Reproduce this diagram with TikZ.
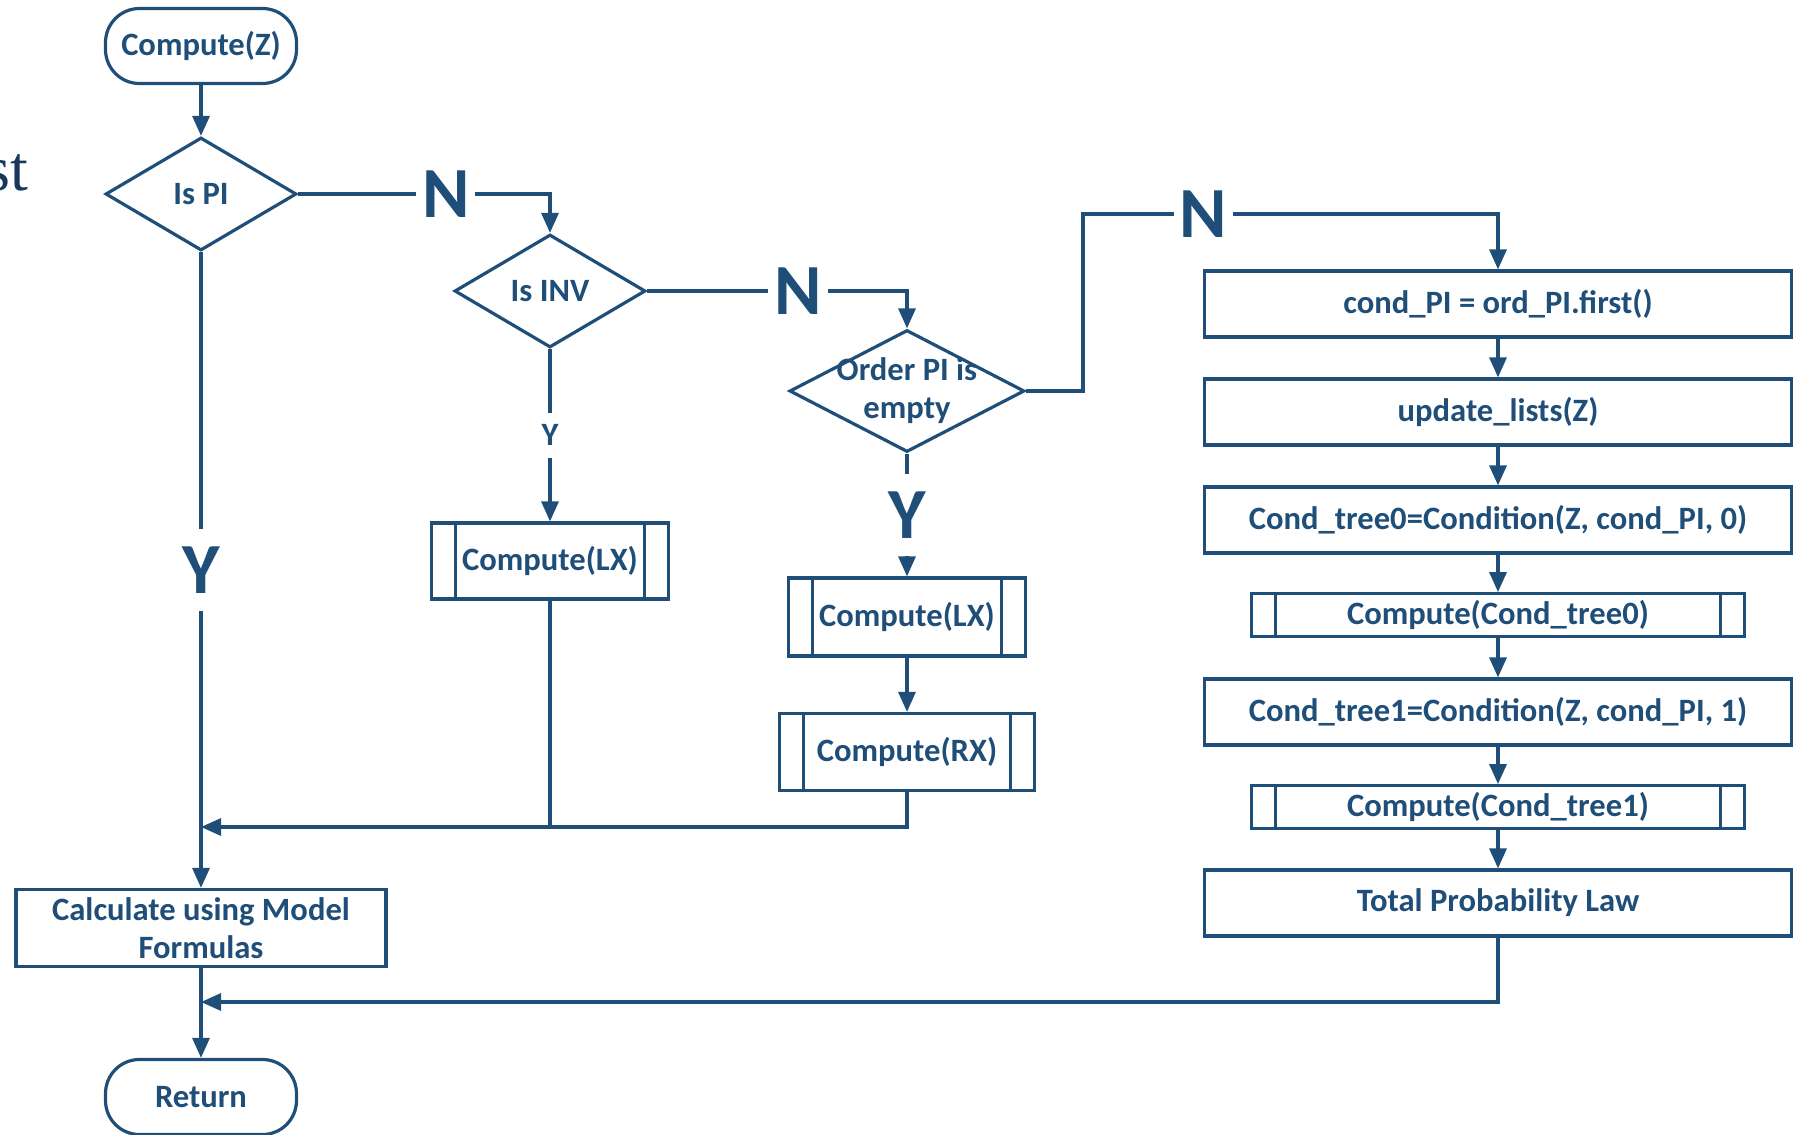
\documentclass[tikz,border=0pt]{standalone}
\usepackage{fontspec}
\setmainfont{Carlito}
\newfontfamily\slidefont{Liberation Serif}
\usepackage{tikz}
\usetikzlibrary{shapes.geometric, arrows.meta, positioning, calc}
\definecolor{flowblue}{RGB}{31, 78, 121}
\definecolor{slideblue}{RGB}{23, 55, 94}

\tikzset{
  boxtext/.style={text=flowblue, font=\bfseries\fontsize{16.3}{19}\selectfont},
  terminal/.style={boxtext, draw=flowblue, line width=1.6pt, rounded corners=17pt,
                   minimum width=95.5pt, minimum height=37.5pt},
  decision/.style={boxtext, diamond, draw=flowblue, line width=1.6pt, inner sep=0pt,
                   aspect=1.69, minimum width=95.5pt, minimum height=56.5pt},
  process/.style={boxtext, draw=flowblue, line width=1.6pt, minimum height=33pt},
  subroutine/.style={boxtext, draw=flowblue, line width=1.6pt, minimum height=38pt,
                     path picture={
                       \draw[flowblue, line width=1.6pt]
                         ([xshift=12pt]path picture bounding box.north west) -- ([xshift=12pt]path picture bounding box.south west)
                         ([xshift=-12pt]path picture bounding box.north east) -- ([xshift=-12pt]path picture bounding box.south east);}},
  flowline/.style={draw=flowblue, line width=1.6pt},
  flowarrow/.style={flowline, -{Triangle[width=8.5pt, length=10pt]}},
  bigmark/.style={text=flowblue, font=\bfseries\fontsize{36}{36}\selectfont, fill=white,
                  inner xsep=3pt, inner ysep=8pt},
  smallmark/.style={boxtext, fill=white, inner xsep=3pt, inner ysep=6pt}
}

\begin{document}
\begin{tikzpicture}[x=0.5pt, y=-0.5pt]
  \useasboundingbox (0,0) rectangle (1801,1135);

  % leftover of the slide title
  \node[anchor=base east, inner sep=0pt, text=slideblue, font=\slidefont\fontsize{32}{36}\selectfont] (slidefrag) at (29,190) {st};

  % left column
  \node[terminal] (start) at (201,46) {Compute(Z)};
  \node[decision] (ispi) at (201,194) {Is PI};
  \node[process, minimum width=185pt, minimum height=38.5pt, align=center] (calc) at (201,928) {Calculate using Model\\Formulas};
  \node[terminal] (return) at (201,1097) {Return};

  % middle columns
  \node[decision] (isinv) at (550,291) {Is INV};
  \node[subroutine, minimum width=118.5pt] (computelx) at (550,561) {Compute(LX)};
  \node[decision, aspect=1.93, minimum width=117.5pt, minimum height=61pt] (orderpi) at (907,391) {};
  \node[boxtext, align=center, inner sep=0pt] (orderpitext) at (907,391) {Order PI is\\empty};
  \node[subroutine, minimum width=118.5pt, minimum height=39pt] (computelxb) at (907,617) {Compute(LX)};
  \node[subroutine, minimum width=127.5pt, minimum height=38.5pt] (computerx) at (907,752) {Compute(RX)};

  % right column
  \node[process, minimum width=293.5pt] (condpi) at (1498,304) {cond\_PI = ord\_PI.first()};
  \node[process, minimum width=293.5pt] (update) at (1498,412) {update\_lists(Z)};
  \node[process, minimum width=293.5pt] (treezero) at (1498,520) {Cond\_tree0=Condition(Z, cond\_PI, 0)};
  \node[subroutine, minimum width=246.5pt, minimum height=21pt] (computezero) at (1498,615) {Compute(Cond\_tree0)};
  \node[process, minimum width=293.5pt] (treeone) at (1498,712) {Cond\_tree1=Condition(Z, cond\_PI, 1)};
  \node[subroutine, minimum width=246.5pt, minimum height=21pt] (computeone) at (1498,807) {Compute(Cond\_tree1)};
  \node[process, minimum width=293.5pt] (total) at (1498,903) {Total Probability Law};

  \coordinate (ntop) at (1083,214);
  \coordinate (mergeA) at (201,827);
  \coordinate (mergeB) at (201,1002);

  % connectors
  \draw[flowarrow] (start) -- (ispi);
  \draw[flowarrow] (ispi.east) -| node[bigmark, pos=0.293] (nispi) {N} (isinv.north);
  \draw[flowarrow] (ispi.south) -- node[bigmark, inner ysep=9pt] (yispi) {Y} (calc.north);
  \draw[flowarrow] (isinv.east) -| node[bigmark, pos=0.29] (nisinv) {N} (orderpi.north);
  \draw[flowarrow] (isinv.south) -- node[smallmark] (yisinv) {Y} (computelx.north);
  \draw[flowarrow] (orderpi.south) -- node[bigmark, inner ysep=9pt] (yorderpi) {Y} (computelxb.north);
  \draw[flowarrow] (orderpi.east) -| (ntop) -| node[bigmark, pos=0.145] (norderpi) {N} (condpi.north);
  \draw[flowarrow] (computelxb) -- (computerx);
  \draw[flowarrow] (computerx.south) |- (mergeA);
  \draw[flowline] (computelx.south) -- (computelx.south |- mergeA);
  \draw[flowarrow] (calc.south) -- (return.north);
  \foreach \from/\to in {condpi/update, update/treezero, treezero/computezero,
                         computezero/treeone, treeone/computeone, computeone/total}
    \draw[flowarrow] (\from) -- (\to);
  \draw[flowarrow] (total.south) |- (mergeB);
\end{tikzpicture}
\end{document}
